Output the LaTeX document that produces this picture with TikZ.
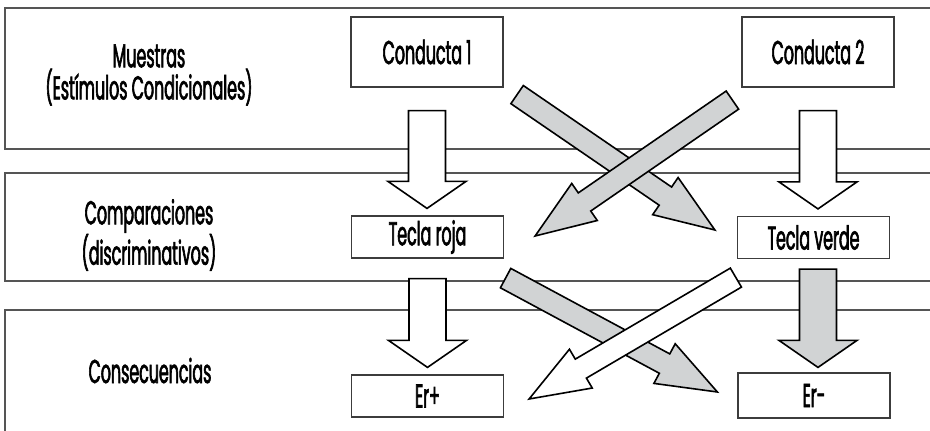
\documentclass[tikz,border=0pt]{standalone}
\usepackage{fontspec}
\setmainfont[FakeStretch=0.48, FakeBold=1.8]{Poppins}
\usepackage{tikz}
\usetikzlibrary{calc}
\usepackage{xcolor}
\definecolor{GrisFlecha}{RGB}{209,211,212}
\definecolor{GrisLinea}{RGB}{85,85,85}
\definecolor{GrisCaja}{RGB}{60,60,60}

% flecha gruesa: [estilo]{origen}{destino}{medio cuerpo}{media punta}{largo punta}
\newcommand{\flechaGruesa}[6][]{%
  \coordinate (fp) at ($(#3)!#6!(#2)$);
  \draw[#1] ($(#2)!#4!90:(#3)$) -- ($(fp)!#4!90:(#3)$) -- ($(fp)!#5!90:(#3)$)
    -- (#3) -- ($(fp)!#5!-90:(#3)$) -- ($(fp)!#4!-90:(#3)$) -- ($(#2)!#4!-90:(#3)$) -- cycle;}

\begin{document}
\begin{tikzpicture}[x=1pt, y=-1pt, font=\fontsize{33}{27}\selectfont,
  banda/.style={draw=GrisLinea, line width=1.3pt},
  caja/.style={rectangle, draw=GrisCaja, line width=1.2pt, fill=white, minimum width=152pt, minimum height=42pt, inner sep=0pt},
  etiqueta/.style={align=center, inner sep=0pt},
  flecha/.style={draw=black, line width=1.6pt, line join=miter}]
  \useasboundingbox (0,0) rectangle (930,431);
  % bandas
  \draw[banda] (930,8) -| (5,149) -- (930,149);
  \draw[banda] (930,173) -| (5,281) -- (930,281);
  \draw[banda] (930,310) -| (5,431);
  % etiquetas de las bandas
  \node[etiqueta] (muestras) at (149,75) {Muestras\\(Estímulos Condicionales)};
  \node[etiqueta] (comparaciones) at (149,235) {Comparaciones\\(discriminativos)};
  \node[etiqueta, anchor=base] (consecuencias) at (150,383) {Consecuencias};
  % cajas
  \node[caja, minimum height=70pt] (c1) at (427,52) {Conducta 1};
  \node[caja, minimum height=70pt] (c2) at (818,52) {Conducta 2};
  \node[caja] (tr) at (427.5,237) {Tecla roja};
  \node[caja] (tv) at (813.5,237.5) {Tecla verde};
  \node[caja] (erp) at (427.5,396) {Er+};
  \node[caja, minimum height=45pt] (ern) at (814,395.5) {Er-};
  % extremos de las flechas
  \coordinate (v1a) at ($(c1.south)+(0,23)$);
  \coordinate (v1b) at ($(c1.south |- tr.north)+(0,-7)$);
  \coordinate (v2a) at ($(c2.south)+(0,23)$);
  \coordinate (v2b) at ($(c2.south |- tv.north)+(0,-7)$);
  \coordinate (v3a) at ($(tr.south)+(0,20)$);
  \coordinate (v3b) at ($(tr.south |- erp.north)+(0,-7)$);
  \coordinate (v4a) at ($(c2.south |- tv.south)+(0,10)$);
  \coordinate (v4b) at ($(c2.south |- ern.north)+(0,-5)$);
  \coordinate (d1a) at ($(c1.south east)+(13.5,7)$);
  \coordinate (d1b) at ($(tv.west)+(-22,-7.5)$);
  \coordinate (d2a) at ($(c2.south west)+(-9,12.5)$);
  \coordinate (d2b) at ($(tr.east)+(31,-1)$);
  \coordinate (d3a) at ($(tr.south east)+(1.5,19.5)$);
  \coordinate (d3b) at ($(ern.west)+(-20,-3.5)$);
  \coordinate (d4a) at ($(tv.south west)+(-1,18.5)$);
  \coordinate (d4b) at ($(erp.east)+(25,3)$);
  % flechas cruzadas
  \flechaGruesa[flecha, fill=GrisFlecha]{d1a}{d1b}{11pt}{22.5pt}{60pt}
  \flechaGruesa[flecha, fill=GrisFlecha]{d2a}{d2b}{11pt}{22.5pt}{60pt}
  \flechaGruesa[flecha, fill=GrisFlecha]{d3a}{d3b}{11pt}{22.5pt}{60pt}
  \flechaGruesa[flecha, fill=white]{d4a}{d4b}{11pt}{22.5pt}{60pt}
  % flechas verticales
  \flechaGruesa[flecha, fill=white]{v1a}{v1b}{18.5pt}{39pt}{27pt}
  \flechaGruesa[flecha, fill=white]{v2a}{v2b}{18.5pt}{39pt}{27pt}
  \flechaGruesa[flecha, fill=white]{v3a}{v3b}{18.5pt}{39pt}{27pt}
  \flechaGruesa[flecha, fill=GrisFlecha]{v4a}{v4b}{18.5pt}{39pt}{27pt}
\end{tikzpicture}
\end{document}
